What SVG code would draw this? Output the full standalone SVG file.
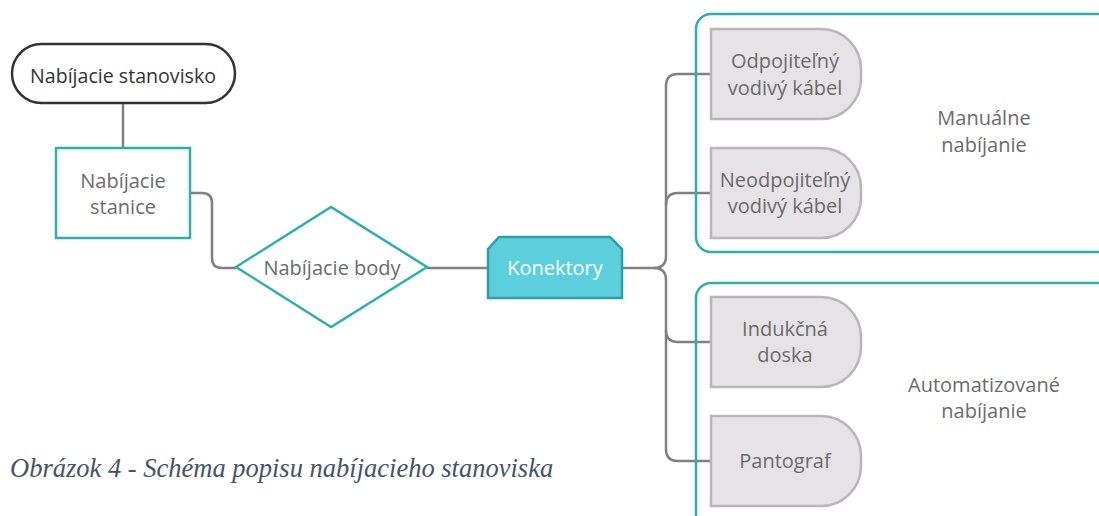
<svg xmlns="http://www.w3.org/2000/svg" width="1099" height="516" viewBox="0 0 1099 516">
<style>
.t{font-family:"Open Sans","Noto Sans",sans-serif;font-size:20px;fill:#6b6b6b;text-anchor:middle}
.c{fill:none;stroke:#808080;stroke-width:2.5}
.leaf{fill:#e6e3e6;stroke:#b9b6b9;stroke-width:2.5}
.grp{fill:none;stroke:#2bb0aa;stroke-width:2.5}
</style>
<rect width="1099" height="516" fill="#fff"/>
<g id="connectors">
<path class="c" d="M123,103 V148"/>
<path class="c" d="M190,193 H202 Q212,193 212,203 V258 Q212,268 222,268 H236"/>
<path class="c" d="M427,268 H488"/>
<path class="c" d="M622,268 H654 Q666,268 666,256 V86 Q666,74 678,74 H711"/>
<path class="c" d="M666,205 Q666,193 678,193 H711"/>
<path class="c" d="M654,268 Q666,268 666,280 V449 Q666,461 678,461 H711"/>
<path class="c" d="M666,330 Q666,342 678,342 H711"/>
</g>
<g id="group-manual">
<rect class="grp" x="696" y="14" width="430" height="238" rx="15"/>
<text class="t" x="984" y="125">Manuálne</text>
<text class="t" x="984" y="152">nabíjanie</text>
</g>
<g id="group-auto">
<rect class="grp" x="696" y="283" width="430" height="250" rx="15"/>
<text class="t" x="984" y="392">Automatizované</text>
<text class="t" x="984" y="418">nabíjanie</text>
</g>
<g id="stanovisko">
<rect x="12" y="44" width="223" height="59" rx="29.5" fill="#fff" stroke="#333" stroke-width="2.5"/>
<text class="t" x="123" y="83" style="font-size:19.6px;fill:#333">Nabíjacie stanovisko</text>
</g>
<g id="stanice">
<rect x="56" y="148" width="134" height="90" fill="#fff" stroke="#2bb0aa" stroke-width="2.5"/>
<text class="t" x="123" y="188">Nabíjacie</text>
<text class="t" x="123" y="214">stanice</text>
</g>
<g id="body">
<polygon points="236,267 331,207 427,267 331,327" fill="#fff" stroke="#2bb0aa" stroke-width="2.5"/>
<text class="t" x="332" y="275">Nabíjacie body</text>
</g>
<g id="konektory">
<path d="M488,249 L499,237 H610 L622,249 V298 H488 Z" fill="#5ccfdc" stroke="#2aa0aa" stroke-width="2.5"/>
<text class="t" x="555" y="275" style="fill:#fff">Konektory</text>
</g>
<g id="odpojitelny">
<path class="leaf" d="M711,29 H821 A40,40 0 0 1 861,69 V79 A40,40 0 0 1 821,119 H711 Z"/>
<text class="t" x="785" y="68">Odpojiteľný</text>
<text class="t" x="785" y="95">vodivý kábel</text>
</g>
<g id="neodpojitelny">
<path class="leaf" d="M711,148 H821 A40,40 0 0 1 861,188 V198 A40,40 0 0 1 821,238 H711 Z"/>
<text class="t" x="785" y="187">Neodpojiteľný</text>
<text class="t" x="785" y="213">vodivý kábel</text>
</g>
<g id="indukcna">
<path class="leaf" d="M711,297 H821 A40,40 0 0 1 861,337 V347 A40,40 0 0 1 821,387 H711 Z"/>
<text class="t" x="785" y="336">Indukčná</text>
<text class="t" x="785" y="362">doska</text>
</g>
<g id="pantograf">
<path class="leaf" d="M711,416 H821 A40,40 0 0 1 861,456 V466 A40,40 0 0 1 821,506 H711 Z"/>
<text class="t" x="785" y="468">Pantograf</text>
</g>
<text x="10" y="477" font-family="'Liberation Serif',serif" font-style="italic" font-size="26.5" fill="#44546a">Obrázok 4 - Schéma popisu nabíjacieho stanoviska</text>
</svg>
